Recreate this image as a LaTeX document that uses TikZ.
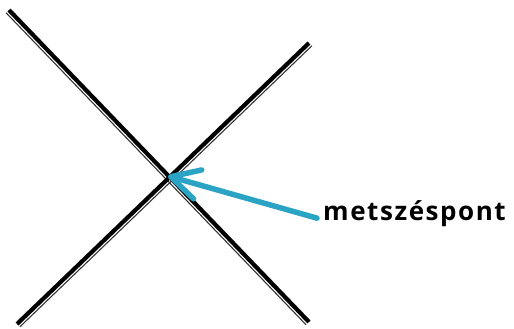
\documentclass[tikz,border=0pt]{standalone}
\usepackage{fontspec}
\newfontfamily\lblfont[LetterSpace=6]{Open Sans}
\usepackage{tikz}
\usetikzlibrary{arrows.meta,positioning}
\definecolor{arrowteal}{RGB}{42,163,196}

\begin{document}
\begin{tikzpicture}[x=1pt, y=-1pt,
  edgeline/.style={black, line width=4.2pt},
  edgeshadow/.style={black!80, line width=1.1pt},
  arr/.style={-{Straight Barb[length=28pt, width=30pt, line cap=round, line join=round]},
              arrowteal, line width=5.5pt, line cap=round},
  lbl/.style={font=\lblfont\bfseries\fontsize{26pt}{30pt}\selectfont, inner sep=0pt, anchor=base west}
]
\useasboundingbox (0,0) rectangle (514,329);
\coordinate (a1) at (9,10);
\coordinate (a2) at (309,322);
\coordinate (b1) at (309,43);
\coordinate (b2) at (17,324);
\coordinate (x) at (168,176);

\draw[edgeshadow, transform canvas={xshift=-2.9pt, yshift=-2.8pt}] (a1) -- (a2);
\draw[edgeshadow, transform canvas={xshift=2.9pt, yshift=-2.8pt}] (b1) -- (b2);
\draw[edgeline] (a1) -- (a2);
\draw[edgeline] (b1) -- (b2);

\node[lbl] (mp) at (323,220) {metszéspont};
\draw[arr] ([xshift=-6pt, yshift=-5pt]mp.west) -- (x);
\end{tikzpicture}
\end{document}
